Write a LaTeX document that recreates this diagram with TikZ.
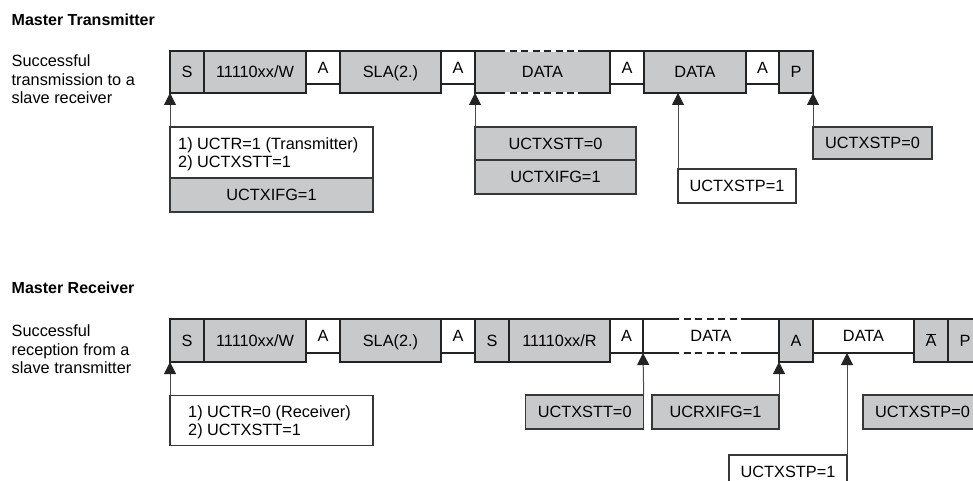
\documentclass[tikz,border=0pt]{standalone}
\usepackage{fontspec}
\setmainfont{Liberation Sans}
\usetikzlibrary{arrows.meta}
\definecolor{boxgrey}{RGB}{200,201,203}
\definecolor{framec}{RGB}{35,35,35}
\definecolor{callc}{RGB}{55,55,55}
\definecolor{arrc}{RGB}{75,75,75}
\newcommand{\fs}{\fontsize{16.3}{18.3}\selectfont}
\begin{document}
\begin{tikzpicture}[x=1pt,y=-1pt,
  fb/.style={draw=framec, line width=2pt, inner sep=0pt, outer sep=0pt, anchor=north west,
             text height=11.7pt, text depth=0pt, font=\fs},
  gb/.style={fb, fill=boxgrey, minimum height=42pt},
  wb/.style={fb, fill=white, minimum height=33pt},
  bord/.style={draw=framec, line width=2pt},
  dashbord/.style={draw=framec, line width=2pt, dash pattern=on 7pt off 4.5pt, dash phase=7pt},
  call/.style={draw=callc, line width=1.3pt, inner sep=0pt, outer sep=0pt, anchor=north west,
               text height=11.7pt, text depth=0pt, font=\fs},
  gcall/.style={call, fill=boxgrey},
  wcall/.style={call, fill=white},
  txt/.style={anchor=base west, inner sep=0pt, font=\fs},
  ttl/.style={anchor=base west, inner sep=0pt, font=\bfseries\fontsize{16}{18}\selectfont},
  arr/.style={draw=arrc, line width=1pt, -{Triangle[width=12pt,length=12pt,color=framec]}}
]
\useasboundingbox (0,0) rectangle (973,481);
\clip (0,0) rectangle (973,481);

% ---------------- Master Transmitter ----------------
\node[ttl] (t1) at (11.5,25.7) {Master Transmitter};
\node[txt] (t1a) at (11.5,67) {Successful};
\node[txt] (t1b) at (11.5,85.3) {transmission to a};
\node[txt] (t1c) at (11.5,103.6) {slave receiver};

\node[gb, minimum width=34pt]  (tS)   at (170,51) {S};
\node[gb, minimum width=102pt] (tAd)  at (204,51) {11110xx/W};
\node[wb, minimum width=34pt]  (tA1)  at (306,51) {A};
\node[gb, minimum width=101pt] (tSLA) at (340,51) {SLA(2.)};
\node[wb, minimum width=34pt]  (tA2)  at (441,51) {A};
\node[gb, draw=none, minimum width=135pt] (tD1) at (475,51) {DATA};
\draw[bord] ([xshift=30pt]tD1.north west) -- (tD1.north west) -- (tD1.south west) -- ([xshift=30pt]tD1.south west);
\draw[bord] ([xshift=-32pt]tD1.north east) -- (tD1.north east) -- (tD1.south east) -- ([xshift=-32pt]tD1.south east);
\draw[white, line width=2pt] ([xshift=30pt]tD1.north west) -- ([xshift=-32pt]tD1.north east);
\draw[white, line width=2pt] ([xshift=30pt]tD1.south west) -- ([xshift=-32pt]tD1.south east);
\draw[dashbord] ([xshift=30pt]tD1.north west) -- ([xshift=-32pt]tD1.north east);
\draw[dashbord] ([xshift=30pt]tD1.south west) -- ([xshift=-32pt]tD1.south east);
\node[wb, minimum width=34pt]  (tA3)  at (610,51) {A};
\node[gb, minimum width=102pt] (tD2)  at (644,51) {DATA};
\node[wb, minimum width=33pt]  (tA4)  at (746,51) {A};
\node[gb, minimum width=34pt]  (tP)   at (779,51) {P};

\node[wcall, minimum width=203pt, minimum height=51pt] (c1a) at (170,127) {};
\node[txt] (c1l1) at (178,149.2) {1) UCTR=1 (Transmitter)};
\node[txt] (c1l2) at (178,167.6) {2) UCTXSTT=1};
\node[gcall, minimum width=203pt, minimum height=34pt] (c1b) at (170,178) {UCTXIFG=1};
\node[gcall, minimum width=161pt, minimum height=33pt] (c2a) at (475,127) {UCTXSTT=0};
\node[gcall, minimum width=161pt, minimum height=34pt] (c2b) at (475,160) {UCTXIFG=1};
\node[wcall, minimum width=118pt, minimum height=34pt] (c3) at (678,169) {UCTXSTP=1};
\node[gcall, minimum width=119pt, minimum height=32pt] (c4) at (813,127) {UCTXSTP=0};

\draw[arr] (c1a.north west) -- (tS.south west);
\draw[arr] (c2a.north west) -- (tD1.south west);
\draw[arr] (c3.north west) -- (c3.north west |- tD2.south);
\draw[arr] (c4.north west) -- (tP.south east);

% ---------------- Master Receiver ----------------
\node[ttl] (r1) at (11.5,293.3) {Master Receiver};
\node[txt] (r1a) at (11.5,336.7) {Successful};
\node[txt] (r1b) at (11.5,355) {reception from a};
\node[txt] (r1c) at (11.5,373.3) {slave transmitter};

\node[gb, minimum height=43pt, minimum width=34pt]  (bS)   at (170,319) {S};
\node[gb, minimum height=43pt, minimum width=102pt] (bAd)  at (204,319) {11110xx/W};
\node[wb, minimum height=34pt, minimum width=34pt]  (bA1)  at (306,319) {A};
\node[gb, minimum height=43pt, minimum width=101pt] (bSLA) at (340,319) {SLA(2.)};
\node[wb, minimum height=34pt, minimum width=34pt]  (bA2)  at (441,319) {A};
\node[gb, minimum height=43pt, minimum width=34pt]  (bS2)  at (475,319) {S};
\node[gb, minimum height=43pt, minimum width=101pt] (bAr)  at (509,319) {11110xx/R};
\node[wb, minimum height=34pt, minimum width=33pt]  (bA3)  at (610,319) {A};
\node[wb, draw=none, minimum height=34pt, minimum width=136pt] (bD1) at (643,319) {DATA};
\draw[bord] ([xshift=36pt]bD1.north west) -- (bD1.north west) -- (bD1.south west) -- ([xshift=36pt]bD1.south west);
\draw[bord] ([xshift=-35pt]bD1.north east) -- (bD1.north east) -- (bD1.south east) -- ([xshift=-35pt]bD1.south east);
\draw[dashbord] ([xshift=36pt]bD1.north west) -- ([xshift=-35pt]bD1.north east);
\draw[dashbord] ([xshift=36pt]bD1.south west) -- ([xshift=-35pt]bD1.south east);
\node[gb, minimum height=43pt, minimum width=34pt]  (bA4)  at (779,319) {A};
\node[wb, minimum height=34pt, minimum width=101pt] (bD2)  at (813,319) {DATA};
\node[gb, minimum height=43pt, minimum width=34pt]  (bNA)  at (914,319) {$\overline{\mbox{A}}$};
\node[gb, minimum height=43pt, minimum width=34pt]  (bP)   at (948,319) {P};

\node[wcall, minimum width=203pt, minimum height=50pt] (d1) at (170,395.7) {};
\node[txt] (d1l1) at (188,417.6) {1) UCTR=0 (Receiver)};
\node[txt] (d1l2) at (188,435.9) {2) UCTXSTT=1};
\node[gcall, minimum width=118pt, minimum height=34pt] (d2) at (525.7,395) {UCTXSTT=0};
\node[gcall, minimum width=127pt, minimum height=34pt] (d3) at (652,395) {UCRXIFG=1};
\node[gcall, minimum width=119pt, minimum height=34pt] (d4) at (863,395) {UCTXSTP=0};
\node[wcall, minimum width=118pt, minimum height=34pt] (d5) at (729,455) {UCTXSTP=1};

\draw[arr] (d1.north west) -- (bS.south west);
\draw[arr] (d2.north east) -- (bD1.south west);
\draw[arr] (d3.north east) -- (bA4.south west);
\draw[arr] (d5.north east) -- (d5.north east |- bD2.south);
\end{tikzpicture}
\end{document}
